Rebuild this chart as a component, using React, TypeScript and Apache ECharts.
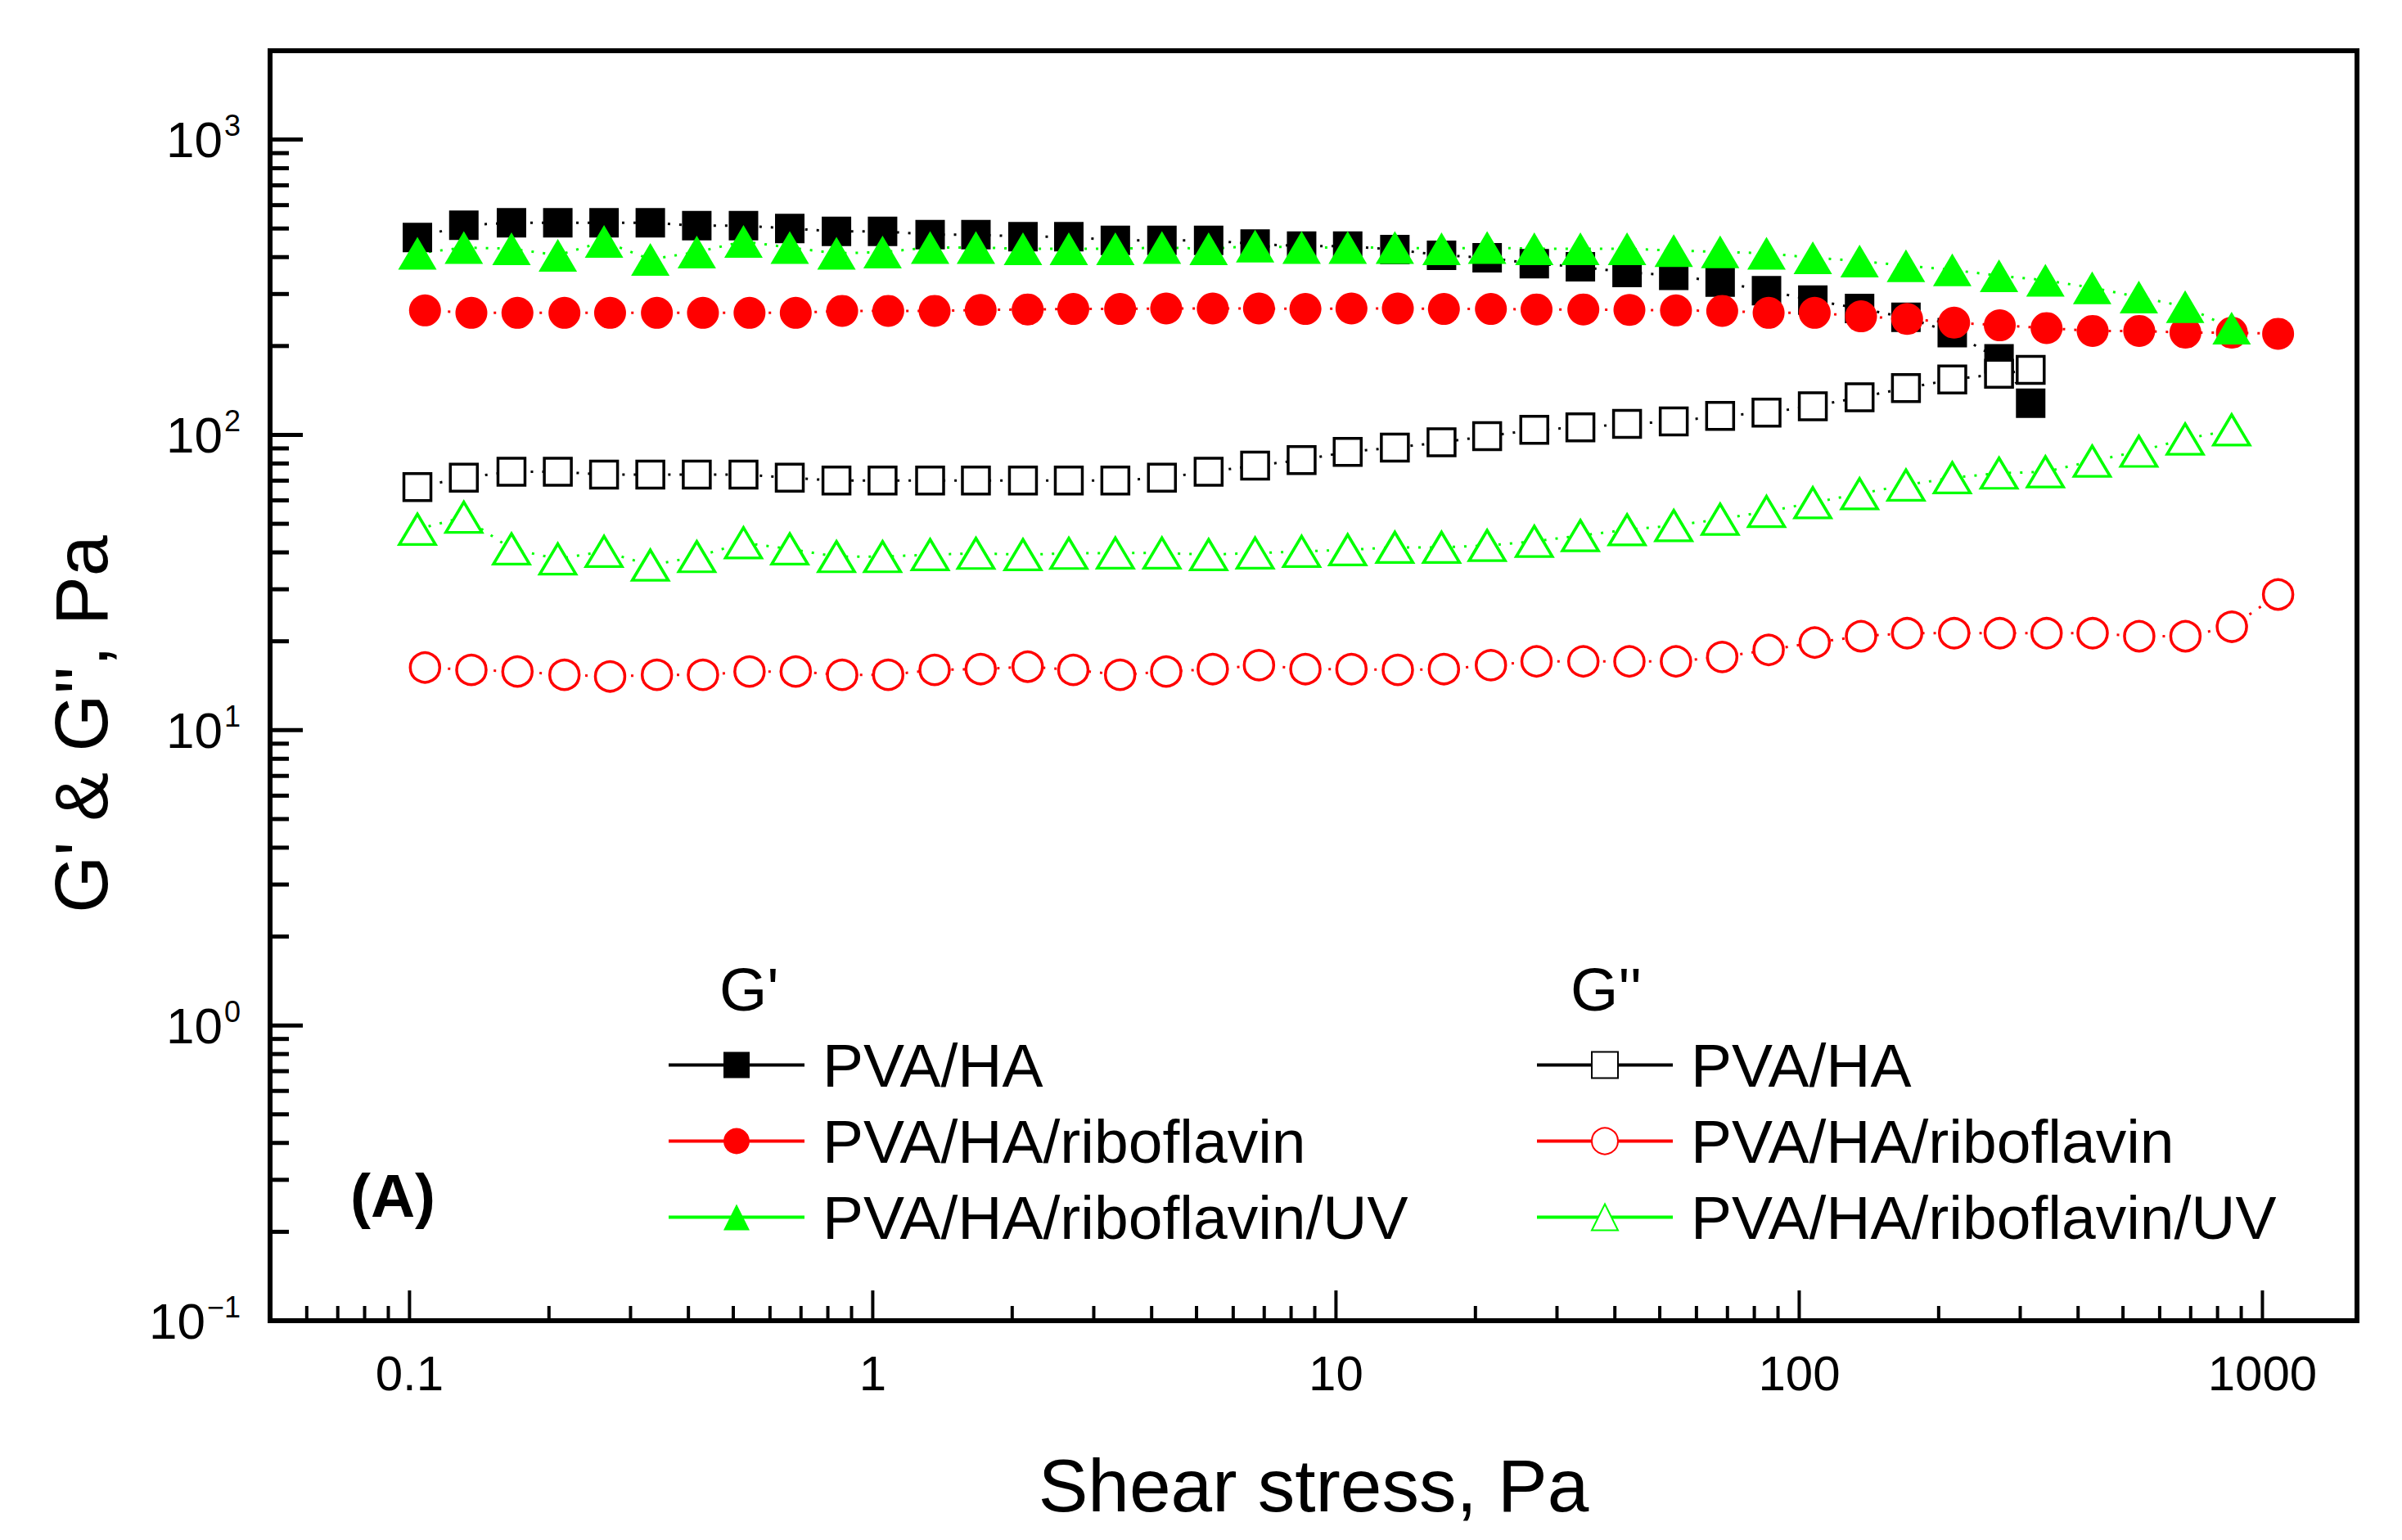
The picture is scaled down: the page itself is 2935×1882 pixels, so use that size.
import React, { useEffect, useRef } from "react";
import * as echarts from "echarts";

// Shear stress (Pa) for each series
const stressPvaHa = [0.104, 0.131, 0.166, 0.209, 0.263, 0.331, 0.417, 0.526, 0.662, 0.835, 1.05, 1.33, 1.67, 2.11, 2.65, 3.34, 4.21, 5.31, 6.69, 8.43, 10.6, 13.4, 16.9, 21.2, 26.8, 33.7, 42.5, 53.6, 67.5, 85.0, 107, 135, 170, 214, 270, 316];
const stressRibo = [0.108, 0.136, 0.171, 0.216, 0.271, 0.342, 0.43, 0.542, 0.682, 0.859, 1.08, 1.36, 1.71, 2.16, 2.71, 3.42, 4.3, 5.42, 6.82, 8.59, 10.8, 13.6, 17.1, 21.6, 27.1, 34.2, 43.0, 54.2, 68.2, 85.9, 108, 136, 171, 216, 271, 342, 430, 542, 682, 859, 1081];
const stressUv = [0.104, 0.131, 0.166, 0.209, 0.263, 0.331, 0.417, 0.526, 0.662, 0.835, 1.05, 1.33, 1.67, 2.11, 2.65, 3.34, 4.21, 5.31, 6.69, 8.43, 10.6, 13.4, 16.9, 21.2, 26.8, 33.7, 42.5, 53.6, 67.5, 85.0, 107, 135, 170, 214, 270, 340, 429, 541, 681, 858];

// G' (storage modulus, Pa)
const gpPvaHa = [466, 513, 523, 523, 523, 523, 511, 511, 500, 489, 489, 477, 477, 469, 469, 456, 456, 456, 443, 436, 436, 424, 406, 398, 380, 371, 355, 347, 329, 308, 286, 268, 250, 222, 181, 128];
const gpRibo = [264, 259, 259, 259, 259, 259, 259, 259, 259, 263, 263, 263, 265, 266, 267, 267, 268, 268, 268, 267, 268, 268, 267, 267, 266, 266, 265, 264, 263, 259, 259, 252, 247, 240, 235, 230, 225, 225, 222, 222, 220];
const gpUv = [412, 431, 427, 406, 452, 393, 416, 452, 431, 412, 416, 431, 431, 427, 427, 427, 431, 427, 436, 431, 431, 431, 427, 431, 427, 427, 427, 421, 417, 412, 398, 388, 374, 362, 346, 334, 315, 293, 272, 230];

// G'' (loss modulus, Pa)
const gppPvaHa = [66.6, 71.6, 75, 75, 73.4, 73.4, 73.4, 73.4, 71.6, 70, 70, 70, 70, 70, 70, 70, 71.6, 75, 78.7, 82.2, 87.6, 90.6, 94.4, 99, 104, 106, 109, 111, 116, 119, 125, 134, 144, 154, 161, 166];
const gppRibo = [16.3, 16.0, 15.8, 15.4, 15.2, 15.4, 15.4, 15.8, 15.8, 15.4, 15.4, 16.0, 16.1, 16.4, 16.0, 15.4, 15.8, 16.1, 16.6, 16.1, 16.1, 16.0, 16.1, 16.6, 17.1, 17.1, 17.1, 17.1, 17.7, 18.7, 19.8, 20.8, 21.3, 21.3, 21.3, 21.3, 21.3, 20.8, 20.8, 22.4, 28.8];
const gppUv = [47.9, 52.6, 41.1, 38, 40.3, 36.2, 38.7, 43.1, 41.1, 38.7, 38.7, 39.3, 39.7, 39.3, 39.7, 39.8, 39.8, 39.3, 39.8, 40.3, 40.8, 41.6, 41.6, 42.2, 43.6, 45.6, 47.7, 49.3, 51.8, 55, 58.9, 63.2, 67.6, 71.6, 74.2, 75, 81.5, 88, 96.8, 104];

// Axis ticks
const xMajorTicks = [0.1, 1, 10, 100, 1000];
const xMinorTicks = [0.05, 0.06, 0.07, 0.08, 0.09, 0.2, 0.3, 0.4, 0.5, 0.6, 0.7, 0.8, 0.9, 2, 3, 4, 5, 6, 7, 8, 9, 20, 30, 40, 50, 60, 70, 80, 90, 200, 300, 400, 500, 600, 700, 800, 900];
const yMajorTicks = [1, 10, 100, 1000];
const yMinorTicks = [0.2, 0.3, 0.4, 0.5, 0.6, 0.7, 0.8, 0.9, 2, 3, 4, 5, 6, 7, 8, 9, 20, 30, 40, 50, 60, 70, 80, 90, 200, 300, 400, 500, 600, 700, 800, 900];

const X_MIN = 0.05;
const X_MAX = 1600;
const Y_MIN = 0.1;
const Y_MAX = 2000;

const FONT = "'Liberation Sans', Arial, Helvetica, sans-serif";
const BLACK = "#000000";
const RED = "#ff0000";
const GREEN = "#00ff00";

function expOf(v: number): number | null {
  const e = Math.log10(v);
  const r = Math.round(e);
  return Math.abs(e - r) < 1e-6 ? r : null;
}

function makeSeries(name: string, xs: number[], ys: number[], symbol: string, size: any, color: string, filled: boolean) {
  return {
    name,
    type: "line",
    data: xs.map((x, i) => [x, ys[i]]),
    symbol,
    symbolSize: size,
    showSymbol: true,
    showAllSymbol: true,
    lineStyle: { color, width: 3, type: [3, 11] },
    itemStyle: filled
      ? { color, borderWidth: 0 }
      : { color: "#ffffff", borderColor: color, borderWidth: 3.5 },
    emphasis: { disabled: true },
    silent: true,
  };
}

function tickSeries(values: number[], axis: "x" | "y", len: number, width: number) {
  return {
    type: "custom",
    coordinateSystem: "cartesian2d",
    silent: true,
    clip: false,
    z: 5,
    data: values.map((v) => (axis === "x" ? [v, Y_MIN] : [X_MIN, v])),
    renderItem: (_params: any, api: any) => {
      const p = api.coord([api.value(0), api.value(1)]);
      const shape =
        axis === "x"
          ? { x1: p[0], y1: p[1], x2: p[0], y2: p[1] - len }
          : { x1: p[0], y1: p[1], x2: p[0] + len, y2: p[1] };
      return { type: "line", shape, style: { stroke: BLACK, lineWidth: width } };
    },
  };
}

export default function App() {
  const ref = useRef<HTMLDivElement>(null);

  useEffect(() => {
    document.body.style.margin = "0";
    if (!ref.current) return;
    const chart = echarts.init(ref.current, undefined, { renderer: "svg" });

    const legendCommon = {
      orient: "vertical",
      top: 1264,
      itemWidth: 166,
      itemHeight: 40,
      itemGap: 18,
      padding: 0,
      selectedMode: false,
      lineStyle: { type: "solid", width: 4 },
      textStyle: { fontSize: 75, color: BLACK, fontFamily: FONT, padding: [0, 0, 0, 17] },
      formatter: (name: string) => name.replace(/^G'+ /, ""),
    };

    chart.setOption({
      animation: false,
      backgroundColor: "#ffffff",
      grid: {
        left: 330,
        right: 55,
        top: 62,
        bottom: 268,
        show: true,
        borderColor: BLACK,
        borderWidth: 6,
        backgroundColor: "transparent",
      },
      xAxis: {
        type: "log",
        logBase: 10,
        min: X_MIN,
        max: X_MAX,
        name: "Shear stress, Pa",
        nameLocation: "middle",
        nameGap: 156,
        nameTextStyle: { fontSize: 91, color: BLACK, fontFamily: FONT },
        axisLine: { show: false },
        axisTick: { show: false },
        splitLine: { show: false },
        minorTick: { show: false },
        axisLabel: {
          margin: 34,
          fontSize: 60,
          color: BLACK,
          fontFamily: FONT,
          showMinLabel: true,
          showMaxLabel: true,
          formatter: (v: number) => {
            const e = expOf(v);
            if (e === null) return "";
            return e < 0 ? Math.pow(10, e).toFixed(-e) : String(Math.round(Math.pow(10, e)));
          },
        },
      },
      yAxis: {
        type: "log",
        logBase: 10,
        min: Y_MIN,
        max: Y_MAX,
        axisLine: { show: false },
        axisTick: { show: false },
        splitLine: { show: false },
        minorTick: { show: false },
        axisLabel: {
          margin: 36,
          color: BLACK,
          fontFamily: FONT,
          showMinLabel: true,
          showMaxLabel: true,
          formatter: (v: number) => {
            const e = expOf(v);
            if (e === null) return "";
            const sup = e < 0 ? "\u2212" + -e : String(e);
            return "{b|10}{s|" + sup + "}";
          },
          rich: {
            b: { fontSize: 62, color: BLACK, fontFamily: FONT },
            s: { fontSize: 36, color: BLACK, fontFamily: FONT, padding: [0, 0, 34, 2] },
          },
        },
      },
      legend: [
        {
          ...legendCommon,
          left: 815,
          data: ["G' PVA/HA", "G' PVA/HA/riboflavin", "G' PVA/HA/riboflavin/UV"],
        },
        {
          ...legendCommon,
          left: 1876,
          data: ["G'' PVA/HA", "G'' PVA/HA/riboflavin", "G'' PVA/HA/riboflavin/UV"],
        },
      ],
      graphic: [
        {
          type: "text",
          x: 100,
          y: 885,
          rotation: Math.PI / 2,
          style: {
            text: "G' & G'', Pa",
            fontSize: 90,
            fontFamily: FONT,
            fill: BLACK,
            align: "center",
            verticalAlign: "middle",
            textAlign: "center",
            textVerticalAlign: "middle",
          },
        },
        {
          type: "text",
          x: 879,
          y: 1209,
          style: {
            text: "G'",
            fontSize: 75,
            fontFamily: FONT,
            fill: BLACK,
            align: "left",
            verticalAlign: "middle",
            textAlign: "left",
            textVerticalAlign: "middle",
          },
        },
        {
          type: "text",
          x: 1919,
          y: 1209,
          style: {
            text: "G''",
            fontSize: 75,
            fontFamily: FONT,
            fill: BLACK,
            align: "left",
            verticalAlign: "middle",
            textAlign: "left",
            textVerticalAlign: "middle",
          },
        },
        {
          type: "text",
          x: 480,
          y: 1461,
          style: {
            text: "(A)",
            fontSize: 75,
            fontWeight: "bold",
            fontFamily: FONT,
            fill: BLACK,
            align: "center",
            verticalAlign: "middle",
            textAlign: "center",
            textVerticalAlign: "middle",
          },
        },
      ],
      series: [
        makeSeries("G' PVA/HA", stressPvaHa, gpPvaHa, "rect", 36, BLACK, true),
        makeSeries("G' PVA/HA/riboflavin", stressRibo, gpRibo, "circle", 39, RED, true),
        makeSeries("G' PVA/HA/riboflavin/UV", stressUv, gpUv, "triangle", [47, 40], GREEN, true),
        makeSeries("G'' PVA/HA", stressPvaHa, gppPvaHa, "rect", 33, BLACK, false),
        makeSeries("G'' PVA/HA/riboflavin", stressRibo, gppRibo, "circle", 36, RED, false),
        makeSeries("G'' PVA/HA/riboflavin/UV", stressUv, gppUv, "triangle", [44, 37], GREEN, false),
        tickSeries(xMajorTicks, "x", 37, 4),
        tickSeries(xMinorTicks, "x", 18, 4),
        tickSeries(yMajorTicks, "y", 40, 5),
        tickSeries(yMinorTicks, "y", 23, 5),
      ],
    });

    return () => {
      chart.dispose();
    };
  }, []);

  return <div ref={ref} style={{ width: 2935, height: 1882 }} />;
}
